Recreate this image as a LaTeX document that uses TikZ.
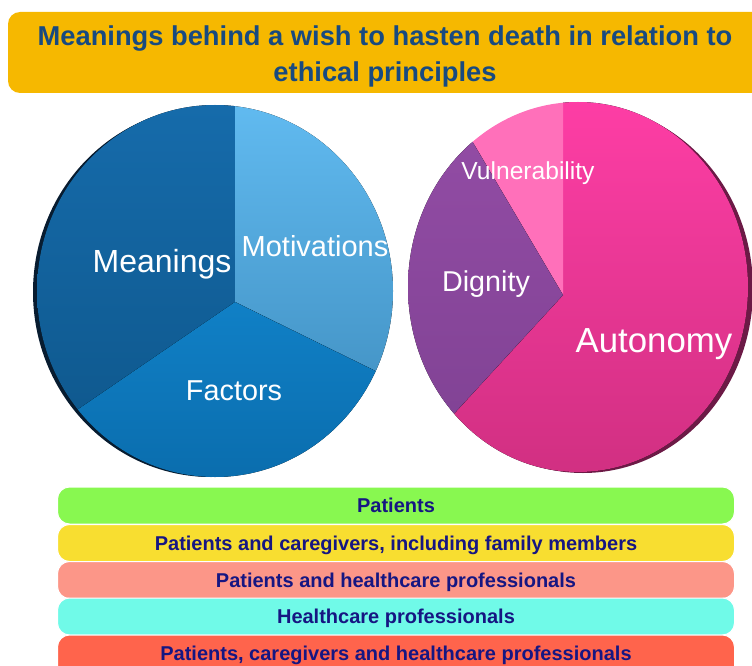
\documentclass[tikz,border=0pt]{standalone}
\usepackage{fontspec}
\setmainfont{Liberation Sans}

\definecolor{titlegold}{RGB}{246,184,0}
\definecolor{titleblue}{RGB}{24,74,128}
\definecolor{barblue}{RGB}{22,22,130}
\definecolor{meandark}{RGB}{22,108,172}
\definecolor{meanlow}{RGB}{14,86,138}
\definecolor{motitop}{RGB}{98,188,242}
\definecolor{motilow}{RGB}{68,148,198}
\definecolor{facttop}{RGB}{16,128,198}
\definecolor{factlow}{RGB}{10,108,172}
\definecolor{blueshade}{RGB}{8,28,48}
\definecolor{autotop}{RGB}{255,62,166}
\definecolor{autolow}{RGB}{204,46,126}
\definecolor{vulnpink}{RGB}{255,112,186}
\definecolor{digtop}{RGB}{150,78,168}
\definecolor{diglow}{RGB}{124,64,144}
\definecolor{pinkshade}{RGB}{108,26,70}
\definecolor{bargreen}{RGB}{136,248,80}
\definecolor{baryellow}{RGB}{248,222,48}
\definecolor{barsalmon}{RGB}{252,150,136}
\definecolor{barcyan}{RGB}{112,250,232}
\definecolor{barred}{RGB}{255,100,76}

\begin{document}
\begin{tikzpicture}[x=1pt, y=-1pt]
                \tikzstyle{label}=[text=white, inner sep=0pt, font=\fontsize{29}{31}\selectfont]
                \tikzstyle{bar}=[rounded corners=12pt, draw=white, line width=1pt, minimum width=677pt, minimum height=37pt, inner sep=0pt, text height=14pt, text depth=0pt, text=barblue, font=\bfseries\fontsize{20}{22}\selectfont]

                \useasboundingbox (0,0) rectangle (752,666);
                \clip (0,0) rectangle (752,666);

                % title banner
                \fill[titlegold, rounded corners=12pt] (8,12) rectangle (780,93);
                \node[text=titleblue, align=center, inner sep=0pt, font=\bfseries\fontsize{27.3}{36}\selectfont] (t) at (385,56)
                    {Meanings behind a wish to hasten death in relation to\\ ethical principles};

                % left pie
                \fill[blueshade] (211,292) ellipse (178 and 185);
                \begin{scope}
                    \clip (215,291) ellipse (178 and 186);
                    \fill[top color=meandark, bottom color=meanlow] (235,302) -- (235,90) -- (20,90) -- (20,470) -- (-2,464) -- cycle;
                    \fill[top color=motitop, bottom color=motilow] (235,302) -- (235,90) -- (410,90) -- (410,388) -- cycle;
                    \fill[top color=facttop, bottom color=factlow] (235,302) -- (410,388) -- (410,490) -- (20,490) -- (-2,464) -- cycle;
                \end{scope}

                % right pie
                \fill[pinkshade] (583,289) ellipse (170 and 184);
                \begin{scope}
                    \clip (578,287) ellipse (170 and 185);
                    \fill[top color=autotop, bottom color=autolow] (563,295) -- (563,90) -- (760,90) -- (760,500) -- (380,500) -- (361,515) -- cycle;
                    \fill[vulnpink] (563,295) -- (563,80) -- (420,80) -- (423,58) -- cycle;
                    \fill[top color=digtop, bottom color=diglow] (563,295) -- (423,58) -- (380,58) -- (380,515) -- (361,515) -- cycle;
                \end{scope}

                % slice labels
                \node[label, font=\fontsize{32}{34}\selectfont] (l1) at (162,264) {Meanings};
                \node[label] (l2) at (315,246) {Motivations};
                \node[label, font=\fontsize{28.8}{31}\selectfont] (l3) at (234,391) {Factors};
                \node[label, font=\fontsize{24.6}{27}\selectfont] (r1) at (528,173) {Vulnerability};
                \node[label, font=\fontsize{28.7}{31}\selectfont] (r2) at (486,284) {Dignity};
                \node[label, font=\fontsize{34.8}{37}\selectfont] (r3) at (654,344) {Autonomy};

                % groups of participants
                \node[bar, fill=bargreen] (b1) at (396,505.5) {Patients};
                \node[bar, fill=baryellow] (b2) at (396,543) {Patients and caregivers, including family members};
                \node[bar, fill=barsalmon] (b3) at (396,580) {Patients and healthcare professionals};
                \node[bar, fill=barcyan] (b4) at (396,616.5) {Healthcare professionals};
                \node[bar, fill=barred, minimum height=44pt] (b5) at (396,657) {\raisebox{4pt}{Patients, caregivers and healthcare professionals}};
            \end{tikzpicture}
\end{document}
